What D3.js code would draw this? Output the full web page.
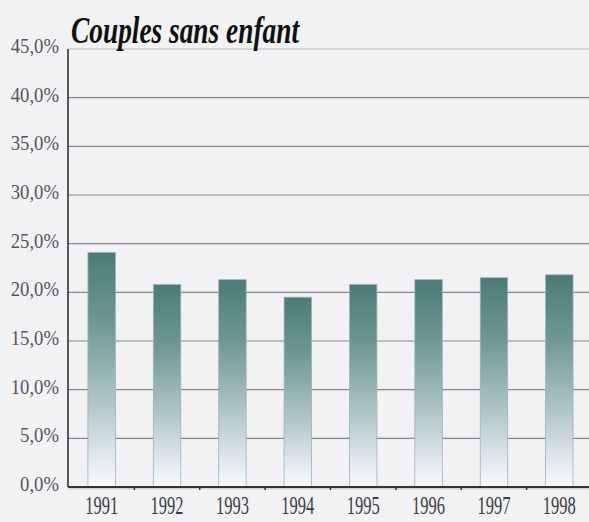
<!DOCTYPE html>
<html>
<head>
<meta charset="utf-8">
<script src="https://cdn.jsdelivr.net/npm/d3@7"></script>
<style>
  html, body { margin: 0; padding: 0; background: #f1f1f4; }
  svg { display: block; }
</style>
</head>
<body>
<svg id="chart" width="589" height="522"></svg>
<script>
const title = "Couples sans enfant";
const years = ["1991", "1992", "1993", "1994", "1995", "1996", "1997", "1998"];
const values = [24.1, 20.8, 21.3, 19.5, 20.8, 21.3, 21.5, 21.8];
const yTicks = [0, 5, 10, 15, 20, 25, 30, 35, 40, 45];
const yTickLabels = ["0,0%", "5,0%", "10,0%", "15,0%", "20,0%", "25,0%", "30,0%", "35,0%", "40,0%", "45,0%"];

const W = 589, H = 522;
const plotLeft = 68, plotBottom = 487, plotTop = 49, gridRight = 589;

const svg = d3.select("#chart");
svg.append("rect").attr("width", W).attr("height", H).attr("fill", "#f2f2f4");

const y = d3.scaleLinear().domain([0, 45]).range([plotBottom, plotTop]);
const x = d3.scaleBand().domain(years).range([plotLeft, 593]).paddingInner(0.58).paddingOuter(0.305);

const defs = svg.append("defs");
const grad = defs.append("linearGradient").attr("id", "barGrad")
  .attr("x1", 0).attr("y1", 0).attr("x2", 0).attr("y2", 1);
grad.append("stop").attr("offset", "0%").attr("stop-color", "#4b7b76");
grad.append("stop").attr("offset", "30%").attr("stop-color", "#6f9894");
grad.append("stop").attr("offset", "60%").attr("stop-color", "#a9c0c1");
grad.append("stop").attr("offset", "85%").attr("stop-color", "#dce5ea");
grad.append("stop").attr("offset", "100%").attr("stop-color", "#f8fafc");

// gridlines
svg.append("g").selectAll("line").data(yTicks.filter(d => d > 0)).join("line")
  .attr("x1", plotLeft).attr("x2", gridRight)
  .attr("y1", d => y(d)).attr("y2", d => y(d))
  .attr("stroke", d => d === 45 ? "#b8b8b4" : "#85858a").attr("stroke-width", 1.2);

// bars
svg.append("g").selectAll("rect").data(years).join("rect")
  .attr("x", d => x(d))
  .attr("y", (d, i) => y(values[i]))
  .attr("width", x.bandwidth())
  .attr("height", (d, i) => plotBottom - y(values[i]))
  .attr("fill", "url(#barGrad)")
  .attr("stroke", "#9fb0c0").attr("stroke-width", 0.8);

// y axis
svg.append("line").attr("x1", plotLeft).attr("x2", plotLeft).attr("y1", plotTop).attr("y2", plotBottom)
  .attr("stroke", "#333338").attr("stroke-width", 1.6);
// x axis
svg.append("line").attr("x1", plotLeft).attr("x2", gridRight).attr("y1", plotBottom).attr("y2", plotBottom)
  .attr("stroke", "#2f3340").attr("stroke-width", 2);
svg.append("line").attr("x1", plotLeft).attr("x2", gridRight).attr("y1", plotBottom + 1.8).attr("y2", plotBottom + 1.8)
  .attr("stroke", "#d0a64a").attr("stroke-width", 0.8).attr("opacity", 0.7);

// x ticks between categories
const step = x.step();
svg.append("g").selectAll("line").data(years.slice(1)).join("line")
  .attr("x1", d => x(d) - step * x.paddingInner() / 2)
  .attr("x2", d => x(d) - step * x.paddingInner() / 2)
  .attr("y1", plotBottom).attr("y2", plotBottom + 3)
  .attr("stroke", "#333").attr("stroke-width", 1.5);

// y labels
svg.append("g").selectAll("text").data(yTicks).join("text")
  .attr("x", 59).attr("y", d => y(d) + 4)
  .attr("text-anchor", "end")
  .attr("font-family", "'Liberation Serif', 'Times New Roman', serif")
  .attr("font-size", 21)
  .attr("fill", "#55555c")
  .text((d, i) => yTickLabels[i])
  .each(function () {
    const w = this.getComputedTextLength();
    d3.select(this).attr("textLength", w * 0.89).attr("lengthAdjust", "spacingAndGlyphs");
  });

// x labels (horizontally condensed serif)
svg.append("g").selectAll("text").data(years).join("text")
  .attr("transform", d => `translate(${x(d) + x.bandwidth() / 2},514) scale(0.66,1)`)
  .attr("text-anchor", "middle")
  .attr("font-family", "'Liberation Serif', 'Times New Roman', serif")
  .attr("font-size", 25)
  .attr("fill", "#3c3c44")
  .text(d => d);

// title
svg.append("text").attr("x", 71).attr("y", 43)
  .attr("font-family", "'Liberation Serif', 'Times New Roman', serif")
  .attr("font-size", 38).attr("font-style", "italic").attr("font-weight", "bold")
  .attr("fill", "#111")
  .attr("textLength", 228).attr("lengthAdjust", "spacingAndGlyphs")
  .text(title);
</script>
</body>
</html>
